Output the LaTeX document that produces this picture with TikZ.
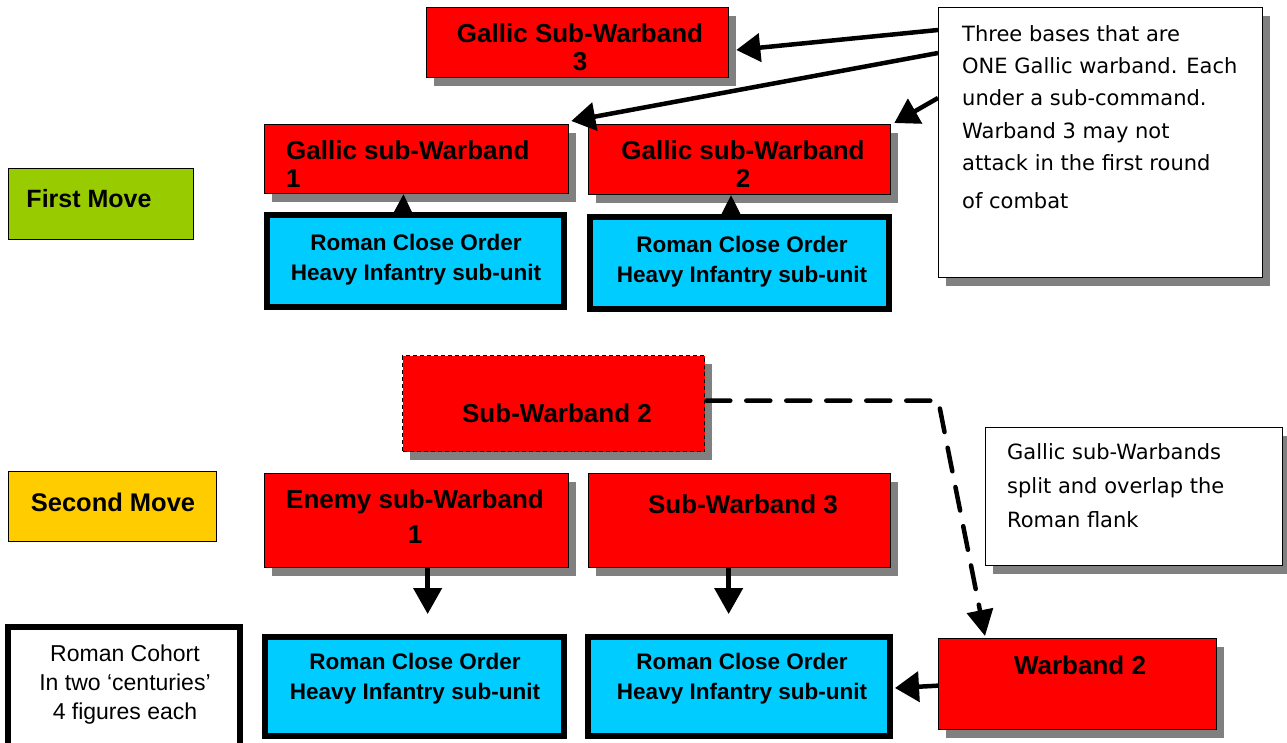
\documentclass[tikz,border=0pt]{standalone}
\usepackage{fontspec}
\setmainfont{Liberation Sans}
\newfontfamily\notefont{DejaVu Sans}
\usetikzlibrary{shadows,arrows.meta,calc}
\definecolor{gallred}{HTML}{FF0000}
\definecolor{romcyan}{HTML}{00CCFF}
\definecolor{movegreen}{HTML}{99CC00}
\definecolor{moveyellow}{HTML}{FFCC00}
\definecolor{shadowgray}{HTML}{808080}
\tikzset{
  box/.style={rectangle, inner sep=0pt, anchor=north west},
  shadowed/.style={drop shadow={shadow xshift=7pt, shadow yshift=-8pt, fill=shadowgray, opacity=1}},
  redbox/.style={box, draw=black, line width=1.3pt, fill=gallred, shadowed},
  dashredbox/.style={box, draw=black, line width=1.3pt, dash pattern=on 4pt off 3pt, fill=gallred, shadowed},
  romanbox/.style={box, draw=black, line width=6pt, fill=romcyan},
  cohortbox/.style={box, draw=black, line width=6pt, fill=white},
  notebox/.style={box, draw=black, line width=1.3pt, fill=white, shadowed},
  movebox/.style={box, draw=black, line width=1.3pt},
  lbl/.style={font=\fontsize{26}{28}\selectfont\bfseries, align=center, inner sep=0pt},
  movelbl/.style={font=\fontsize{25}{28}\selectfont\bfseries, align=center, inner sep=0pt},
  romlbl/.style={font=\fontsize{22.5}{30}\selectfont\bfseries, align=center, inner sep=0pt},
  cohlbl/.style={font=\fontsize{23}{29}\selectfont, align=center, inner sep=0pt},
  notetxt/.style={font=\notefont\fontsize{21}{32.4}\selectfont, align=left, inner sep=0pt, anchor=north west},
  arr/.style={line width=4.5pt, -{Triangle[length=24pt,width=28pt]}},
  downarr/.style={line width=4.5pt, -{Triangle[length=26pt,width=28pt]}},
  uptri/.style={line width=1pt, -{Triangle[length=20pt,width=20pt]}},
  dasharr/.style={line width=4.5pt, dash pattern=on 24pt off 16pt, line cap=round, line join=miter, -{Triangle[length=26pt,width=26pt]}},
}
\begin{document}
\begin{tikzpicture}[x=1pt,y=-1pt]
\useasboundingbox[fill=white] (0,0) rectangle (1287,742);

% ---------- First move ----------
\node[redbox, minimum width=302pt, minimum height=70pt] (gsw3) at (426,7) {};
\node[notebox, minimum width=324pt, minimum height=270pt] (note1) at (938,7) {};
\node[redbox, minimum width=304pt, minimum height=69pt] (gsw1) at (264,124) {};
\node[redbox, minimum width=302pt, minimum height=70pt] (gsw2) at (588,124) {};
\node[romanbox, minimum width=297pt, minimum height=92pt] (r1) at (264,212) {};
\node[romanbox, minimum width=299pt, minimum height=92pt] (r2) at (587,214) {};
\node[movebox, fill=movegreen, minimum width=185pt, minimum height=71pt] (first) at (8,168) {};

\node[lbl] (tgsw3) at (580,47) {Gallic Sub-Warband\\3};
\node[lbl, align=left, anchor=west] (tgsw1) at (286,164) {Gallic sub-Warband\\1};
\node[lbl] (tgsw2) at (743,164) {Gallic sub-Warband\\2};
\node[romlbl] (tr1) at (416,260) {Roman Close Order\\Heavy Infantry sub-unit};
\node[romlbl] (tr2) at (742,262) {Roman Close Order\\Heavy Infantry sub-unit};
\node[movelbl] (tfirst) at (89,199) {First Move};
\node[notetxt] (tnote1) at (962,25) {Three bases that are\\ONE Gallic warband. Each\\under a sub-command.\\Warband 3 may not\\attack in the first round\\[5pt]of combat};

% ---------- Second move ----------
\node[dashredbox, minimum width=302pt, minimum height=96pt] (sw2) at (402,355) {};
\node[notebox, minimum width=297pt, minimum height=138pt] (note2) at (985,427) {};
\node[movebox, fill=moveyellow, minimum width=208pt, minimum height=70pt] (second) at (8,471) {};
\node[redbox, minimum width=304pt, minimum height=94pt] (en1) at (264,473) {};
\node[redbox, minimum width=302pt, minimum height=94pt] (sw3) at (588,473) {};
\node[cohortbox, minimum width=232pt, minimum height=140pt] (cohort) at (5,624) {};
\node[romanbox, minimum width=299pt, minimum height=99pt] (r3) at (262,634) {};
\node[romanbox, minimum width=302pt, minimum height=99pt] (r4) at (585,634) {};
\node[redbox, minimum width=278pt, minimum height=91pt] (wb2) at (938,638) {};

\node[lbl] (tsw2) at (557,413) {Sub-Warband 2};
\node[notetxt, font=\notefont\fontsize{21}{34}\selectfont] (tnote2) at (1007,443) {Gallic sub-Warbands\\split and overlap the\\Roman flank};
\node[movelbl, font=\fontsize{25.5}{28}\selectfont\bfseries] (tsecond) at (113,502) {Second Move};
\node[lbl, font=\fontsize{26}{35}\selectfont\bfseries] (ten1) at (415,517) {Enemy sub-Warband\\1};
\node[lbl] (tsw3) at (743,504) {Sub-Warband 3};
\node[cohlbl] (tcohort) at (125,685) {Roman Cohort\\In two ‘centuries’\\4 figures each};
\node[romlbl] (tr3) at (415,679) {Roman Close Order\\Heavy Infantry sub-unit};
\node[romlbl] (tr4) at (742,679) {Roman Close Order\\Heavy Infantry sub-unit};
\node[lbl] (twb2) at (1080,665) {Warband 2};

% ---------- Connectors ----------
\draw[arr] ($(note1.north west)+(0,23)$) -- ($(gsw3.north east)+(7,43)$);
\draw[arr] ($(note1.north west)+(0,46)$) -- ($(gsw1.north east)+(2,-3)$);
\draw[arr] ($(note1.north west)+(0,91)$) -- ($(gsw2.north east)+(3,-1)$);
\draw[uptri] ($(r1.north)+(-12.5,1)$) -- ($(gsw1.south)+(-13.15,0)$);
\draw[uptri] ($(r2.north)+(-8.5,1)$) -- ($(gsw2.south)+(-8.65,0)$);

\draw[downarr] ($(en1.south)+(11,0)$) -- ($(r3.north)+(13.15,-20)$);
\draw[downarr] ($(sw3.south)+(-11,0)$) -- ($(r4.north)+(-10.35,-20)$);
\draw[arr, -{Triangle[length=24pt,width=30pt]}] ($(wb2.west)+(0,1.5)$) -- ($(r4.east)+(2,1.5)$);
\draw[dasharr] ($(sw2.east)+(1,-3)$) -- ($(sw2.east)+(233,-3)$) -- ($(wb2.north west)+(47,-2)$);
\end{tikzpicture}
\end{document}
